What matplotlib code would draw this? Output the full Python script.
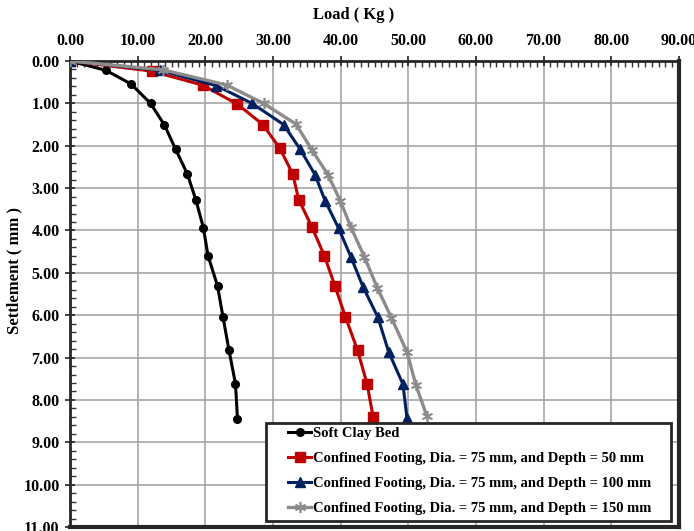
import matplotlib
matplotlib.use("Agg")
import matplotlib.pyplot as plt
from matplotlib.patches import Rectangle
from matplotlib.ticker import MultipleLocator, FormatStrFormatter

plt.rcParams['font.family'] = ['Liberation Serif', 'DejaVu Serif']
plt.rcParams['font.weight'] = 'bold'

settlement_clay = [0, 0.22, 0.54, 1.0, 1.51, 2.08, 2.67, 3.28, 3.93, 4.6, 5.31, 6.04, 6.83, 7.62, 8.45]
load_clay = [0, 5.3, 9.0, 11.9, 13.95, 15.6, 17.35, 18.6, 19.7, 20.4, 21.8, 22.6, 23.5, 24.45, 24.75]

settlement_d50 = [0, 0.24, 0.57, 1.02, 1.5, 2.06, 2.66, 3.27, 3.92, 4.6, 5.31, 6.04, 6.83, 7.62, 8.41]
load_d50 = [0, 12.1, 19.6, 24.75, 28.5, 31.0, 32.9, 33.8, 35.75, 37.6, 39.15, 40.7, 42.5, 43.9, 44.8]

settlement_d100 = [0, 0.22, 0.58, 1.0, 1.5, 2.08, 2.68, 3.3, 3.95, 4.62, 5.33, 6.05, 6.87, 7.63, 8.43]
load_d100 = [0, 13.3, 21.6, 26.9, 31.55, 34.0, 36.2, 37.7, 39.7, 41.5, 43.3, 45.5, 47.1, 49.2, 49.8]

settlement_d150 = [0, 0.21, 0.57, 1.0, 1.49, 2.1, 2.68, 3.3, 3.92, 4.62, 5.35, 6.06, 6.87, 7.64, 8.39]
load_d150 = [0, 13.8, 23.2, 28.6, 33.4, 35.75, 38.1, 39.95, 41.5, 43.5, 45.4, 47.5, 49.8, 51.1, 52.75]

labels = ["Soft Clay Bed",
          "Confined Footing, Dia. = 75 mm, and Depth = 50 mm",
          "Confined Footing, Dia. = 75 mm, and Depth = 100 mm",
          "Confined Footing, Dia. = 75 mm, and Depth = 150 mm"]

W, H = 694, 531
fig = plt.figure(figsize=(6.94, 5.31), dpi=100)
ax = fig.add_axes([0.1009, 0.0075, 0.8775, 0.8776])

ax.plot(load_clay, settlement_clay, color='black', lw=2.2, marker='o', ms=5.5, label=labels[0], zorder=3)
ax.plot(load_d50, settlement_d50, color='#c00000', lw=2.2, marker='s', ms=7.5, label=labels[1], zorder=3)
ax.plot(load_d100, settlement_d100, color='#002060', lw=2.2, marker='^', ms=7.5, label=labels[2], zorder=4)
ax.plot(load_d150, settlement_d150, color='#8c8c8c', lw=2.4, marker=(6, 2, 0), ms=8, mew=1.2, label=labels[3], zorder=5)

ax.set_xlim(0, 90)
ax.set_ylim(11, 0)
ax.xaxis.tick_top()
ax.xaxis.set_label_position('top')
ax.xaxis.set_major_locator(MultipleLocator(10))
ax.xaxis.set_minor_locator(MultipleLocator(1))
ax.yaxis.set_major_locator(MultipleLocator(1))
ax.yaxis.set_minor_locator(MultipleLocator(0.2))
ax.xaxis.set_major_formatter(FormatStrFormatter('%.2f'))
ax.yaxis.set_major_formatter(FormatStrFormatter('%.2f'))

ax.tick_params(axis='both', which='major', direction='inout', length=7, width=1.2, labelsize=11.5, colors='#222222', labelcolor='black')
ax.tick_params(axis='both', which='minor', direction='in', length=4, width=1, colors='#333333')
ax.tick_params(axis='x', which='major', pad=5)
ax.tick_params(axis='y', which='major', pad=4)
for lab in ax.get_xticklabels() + ax.get_yticklabels():
    lab.set_fontweight('bold')

ax.grid(True, which='major', color='#a6a6a6', lw=1.2)
ax.set_axisbelow(True)

for side, lw in [('top', 2.0), ('left', 2.0), ('right', 3.0), ('bottom', 3.0)]:
    ax.spines[side].set_linewidth(lw)
    ax.spines[side].set_color('#262626')

ax.set_xlabel("Load ( Kg )", fontsize=12, fontweight='bold')
ax.set_ylabel("Settlement ( mm )", fontsize=12, fontweight='bold')
ax.xaxis.set_label_coords((354 - 70) / 609, 1 + (61 - 15) / 466, transform=ax.transAxes)
ax.yaxis.set_label_coords((14 - 70) / 609, (527 - 270) / 466, transform=ax.transAxes)
ax.xaxis.label.set_va('center')
ax.yaxis.label.set_va('center')

# legend frame (Excel-style box with wider side padding)
frame = Rectangle((266 / W, 1 - 521 / H), (671 - 266) / W, (521 - 423) / H,
                  transform=fig.transFigure, facecolor='white', edgecolor='#262626',
                  lw=2.0, zorder=9)
fig.add_artist(frame)

leg = ax.legend(loc='upper left', bbox_to_anchor=(288 / W, 1 - 427 / H),
                bbox_transform=fig.transFigure, frameon=False,
                handlelength=1.6, handletextpad=0.1,
                borderpad=0, labelspacing=0.8, borderaxespad=0,
                prop={'weight': 'bold', 'size': 10.5})
leg.set_zorder(10)
leg.remove()
fig.add_artist(leg)

fig.savefig("out.png", dpi=100)
